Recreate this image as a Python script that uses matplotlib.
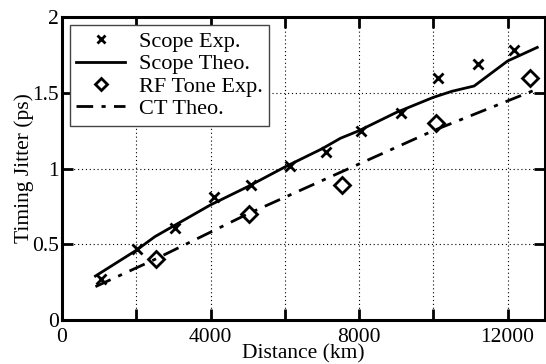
import matplotlib
matplotlib.use("Agg")
import matplotlib.pyplot as plt

# Scope experiment (x markers)
scope_exp_km = [1050, 2030, 3030, 4080, 5080, 6150, 7100, 8050, 9130, 10120, 11200, 12170]
scope_exp_ps = [0.27, 0.47, 0.61, 0.81, 0.89, 1.02, 1.11, 1.25, 1.37, 1.60, 1.69, 1.78]

# Scope theory (solid line)
scope_theo_km = [900, 2000, 2500, 3000, 3500, 4000, 5000, 6000, 7000, 7500, 8000,
                 9000, 9500, 10000, 10500, 11100, 12000, 12800]
scope_theo_ps = [0.29, 0.46, 0.55, 0.62, 0.69, 0.76, 0.88, 1.01, 1.13, 1.20, 1.25,
                 1.37, 1.42, 1.47, 1.51, 1.545, 1.71, 1.80]

# RF tone experiment (diamonds)
rf_exp_km = [2540, 5030, 7540, 10060, 12600]
rf_exp_ps = [0.40, 0.70, 0.89, 1.30, 1.60]

# CT theory (dash-dot line)
ct_theo_km = [900, 2500, 5000, 6000, 8000, 10000, 12750]
ct_theo_ps = [0.22, 0.40, 0.70, 0.81, 1.03, 1.25, 1.52]

x_ticks = [0, 2000, 4000, 6000, 8000, 10000, 12000]
x_labels = ["0", "", "4000", "", "8000", "", "12000"]
y_ticks = [0, 0.5, 1, 1.5, 2]
y_labels = ["0", "0.5", "1", "1.5", "2"]

plt.rcParams['font.family'] = ['Liberation Serif', 'DejaVu Serif']

fig = plt.figure(figsize=(5.46, 3.64), dpi=100)
ax = fig.add_axes([0.1136, 0.121, 0.884, 0.832])

ax.plot(scope_exp_km, scope_exp_ps, linestyle='none', marker='x', color='black',
        markersize=7, markeredgewidth=2, label='Scope Exp.')
ax.plot(scope_theo_km, scope_theo_ps, color='black', linewidth=2, label='Scope Theo.')
ax.plot(rf_exp_km, rf_exp_ps, linestyle='none', marker='D', color='black',
        markerfacecolor='white', markersize=8, markeredgewidth=2, label='RF Tone Exp.')
ax.plot(ct_theo_km, ct_theo_ps, color='black', linewidth=2,
        linestyle=(0, (6, 3, 1.5, 3)), label='CT Theo.')

ax.set_xlim(0, 13000)
ax.set_ylim(0, 2)
ax.set_xticks(x_ticks)
ax.set_xticklabels(x_labels)
ax.set_yticks(y_ticks)
ax.set_yticklabels(y_labels)

ax.tick_params(direction='in', length=8, width=2, labelsize=15.5,
               top=True, right=True, colors='black')
ax.tick_params(axis='y', pad=2)
ax.tick_params(axis='x', pad=6)
for s in ax.spines.values():
    s.set_linewidth(2.2)

ax.grid(True, linestyle=(0, (1, 2.5)), color='black', linewidth=0.8)

ax.set_xlabel('Distance (km)', fontsize=15.5, labelpad=-2)
ax.set_ylabel('Timing Jitter (ps)', fontsize=15.5, labelpad=-1)

leg = ax.legend(loc='upper left', fontsize=16, frameon=True, fancybox=False,
                borderaxespad=0.35, handlelength=2.2, handletextpad=0.6,
                labelspacing=0.08, borderpad=0.3, framealpha=1, markerscale=0.75)
leg.get_frame().set_edgecolor('#444444')
leg.get_frame().set_linewidth(1.0)

fig.savefig('out.png', dpi=100)
